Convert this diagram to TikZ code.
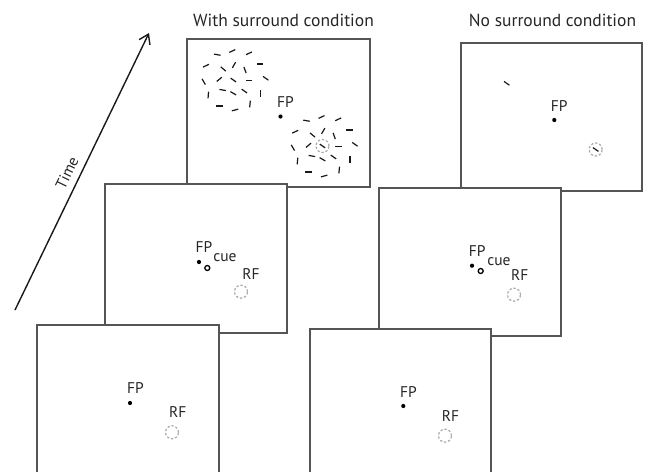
\documentclass[tikz,border=0pt]{standalone}
\usepackage{fontspec}
\setmainfont{PT Sans}
\usetikzlibrary{arrows.meta}
\definecolor{framegray}{HTML}{555555}
\definecolor{rfgray}{HTML}{AAAAAA}
\newcommand\lblfont{\fontsize{15.5}{18}\selectfont}
\newcommand\ttlfont{\fontsize{17.5}{20}\selectfont}
\tikzset{
  panel/.style={draw=framegray, line width=1.2pt, fill=white, anchor=north west,
    minimum width=182pt, minimum height=148pt, inner sep=0pt, outer sep=0pt},
  fixdot/.style={circle, fill=black, inner sep=0pt, minimum size=4.2pt},
  cuering/.style={circle, draw=black, line width=1.3pt, inner sep=0pt, minimum size=5pt},
  rfring/.style={circle, draw=rfgray, dash pattern=on 2.3pt off 1.9pt, line width=1.2pt,
    inner sep=0pt, minimum size=13pt},
  lbl/.style={font=\lblfont, inner sep=0pt, text=black!85},
  ttl/.style={font=\ttlfont, inner sep=0pt, anchor=base, text=black!85},
  barline/.style={line width=1.2pt, black!90},
  timearrow/.style={line width=1.4pt, black!90, -{Straight Barb[length=9pt,width=12pt,line width=1.4pt]}},
}
\newcommand\barseg[3]{\draw[barline] (#1,#2) ++({-(#3)}:3.3) -- ++({180-(#3)}:6.6);}
\newcommand\barcluster[2]{%
  \begin{scope}[shift={(#1,#2)}]
    \barseg{-16}{-25.3}{-10}
    \barseg{-1}{-29}{25}
    \barseg{15.7}{-26.7}{25}
    \barseg{-27.3}{-14.3}{25}
    \barseg{-10}{-11}{-40}
    \barseg{0.7}{-15}{60}
    \barseg{11.7}{-10}{-70}
    \barseg{26.7}{-16}{0}
    \barseg{-29.6}{1.7}{-60}
    \barseg{-14}{-0.7}{40}
    \barseg{0}{0}{-35}
    \barseg{15.7}{0.7}{0}
    \barseg{32.4}{-1.7}{-35}
    \barseg{-10.6}{10}{-10}
    \barseg{0}{13.3}{-30}
    \barseg{11}{11}{-35}
    \barseg{27.4}{13.3}{90}
    \barseg{-25}{15}{85}
    \barseg{-14}{26}{0}
    \barseg{1.7}{30}{15}
    \barseg{16.7}{24}{85}
  \end{scope}}
\begin{document}
\begin{tikzpicture}[x=1pt,y=-1pt]
\useasboundingbox (0,0) rectangle (649,472);
\clip (0,0) rectangle (649,472);

% titles
\node[ttl] (ttlwith) at (283.5,26.5) {With surround condition};
\node[ttl] (ttlno) at (552.5,26.5) {No surround condition};

% time arrow
\coordinate (tstart) at (15,310);
\coordinate (tend) at (149,33);
\draw[timearrow] (tstart) -- (tend);
\node[lbl, rotate=64] (timelbl) at (67,173) {Time};

% ---- back row
\node[panel, minimum width=183pt] (tlbox) at (187,39) {};
\begin{scope}[shift={(187,39)}]
  \node[rfring] (tlrf) at (135.5,107) {};
  \barcluster{46.3}{41}
  \barcluster{135.5}{107}
  \node[fixdot] (tlfp) at (93.5,77.5) {};
  \node[lbl] (tlfplbl) at (98.5,63) {FP};
\end{scope}

\node[panel, minimum width=181pt] (trbox) at (461,43) {};
\begin{scope}[shift={(461,43)}]
  \node[rfring] (trrf) at (134.7,106.5) {};
  \barseg{45.7}{40.3}{-35}
  \barseg{134.7}{106.5}{-35}
  \node[fixdot] (trfp) at (93.3,77) {};
  \node[lbl] (trfplbl) at (98.2,63.5) {FP};
\end{scope}

% ---- middle row
\node[panel, minimum height=149pt] (mlbox) at (105,184) {};
\begin{scope}[shift={(105,184)}]
  \node[fixdot] (mlfp) at (94,78) {};
  \node[cuering] (mlcue) at (102.3,84) {};
  \node[rfring] (mlrf) at (136,107.7) {};
  \node[lbl] (mlfplbl) at (99,63.5) {FP};
  \node[lbl] (mlcuelbl) at (120,74) {cue};
  \node[lbl] (mlrflbl) at (146,90) {RF};
\end{scope}

\node[panel] (mrbox) at (379,188) {};
\begin{scope}[shift={(379,188)}]
  \node[fixdot] (mrfp) at (93,77.7) {};
  \node[cuering] (mrcue) at (101.7,83) {};
  \node[rfring] (mrrf) at (135,106.7) {};
  \node[lbl] (mrfplbl) at (98.3,63.2) {FP};
  \node[lbl] (mrcuelbl) at (120,74) {cue};
  \node[lbl] (mrrflbl) at (140.7,87) {RF};
\end{scope}

% ---- front row
\node[panel, minimum height=152pt] (blbox) at (37,325) {};
\begin{scope}[shift={(37,325)}]
  \node[fixdot] (blfp) at (93,78) {};
  \node[rfring] (blrf) at (135,107.3) {};
  \node[lbl] (blfplbl) at (98.5,63) {FP};
  \node[lbl] (blrflbl) at (140.8,87.5) {RF};
\end{scope}

\node[panel, minimum width=181pt, minimum height=152pt] (brbox) at (310,329) {};
\begin{scope}[shift={(310,329)}]
  \node[fixdot] (brfp) at (93.3,77) {};
  \node[rfring] (brrf) at (135,106.7) {};
  \node[lbl] (brfplbl) at (98.5,63) {FP};
  \node[lbl] (brrflbl) at (140.5,87) {RF};
\end{scope}
\end{tikzpicture}
\end{document}
